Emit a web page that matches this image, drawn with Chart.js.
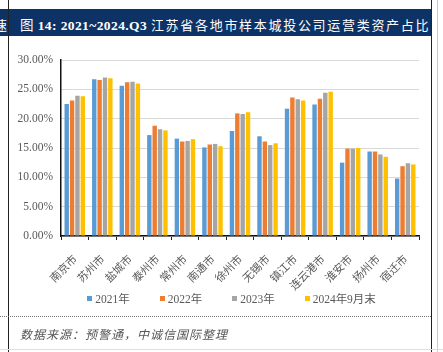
<!DOCTYPE html>
<html>
<head>
<meta charset="utf-8">
<script src="https://cdn.jsdelivr.net/npm/chart.js@4/dist/chart.umd.min.js"></script>
<style>
    html, body { margin: 0; padding: 0; background: #fff; }
    body { width: 443px; height: 352px; position: relative; overflow: hidden; font-family: 'Liberation Serif', 'Noto Sans CJK SC', serif; }
    .frame-l { position: absolute; left: 8px; top: 0; width: 1px; height: 352px; background: #222; }
    .frame-r { position: absolute; left: 431px; top: 0; width: 1px; height: 352px; background: #222; }
    .frame-r2 { position: absolute; left: 437px; top: 0; width: 1px; height: 352px; background: #ccc; }
    .titlebar { position: absolute; left: 0; top: 9px; width: 431px; height: 27px; background: #0d3366; color: #fff; overflow: hidden; }
    .titlebar .prev { position: absolute; left: -6px; top: 6px; font-size: 13px; }
    .titlebar .sep { position: absolute; left: 8px; top: 0; width: 1px; height: 27px; background: #0a1f3d; }
    .titlebar .txt { position: absolute; left: 20px; top: 5px; font-size: 13.5px; letter-spacing: 0.4px; white-space: nowrap; font-family: 'Liberation Serif', 'Noto Sans CJK SC', serif; }
    .titlebar .cjk { letter-spacing: 1.7px; font-size: 13px; }
    #chartWrap { position: absolute; left: 8px; top: 36px; width: 423px; height: 280px; }
    #legend { position: absolute; left: 4px; top: 290px; width: 455px; display: flex; justify-content: center; font-size: 11.5px; color: #595959; }
    #legend .item { display: flex; align-items: center; margin: 0 15px; }
    #legend .box { width: 5px; height: 5px; margin-right: 3px; }
    .dotline { position: absolute; left: 0; top: 316px; width: 431px; border-top: 1px dotted #777; }
    .source { position: absolute; left: 20px; top: 325px; font-size: 12px; color: #555; font-style: italic; font-family: 'Noto Sans CJK SC', sans-serif; letter-spacing: 1px; }
    .bottomline { position: absolute; left: 0; top: 349px; width: 443px; height: 1px; background: #ddd; }
</style>
</head>
<body>
<div class="titlebar">
    <span class="prev">速</span>
    <div class="sep"></div>
    <span class="txt">图 <b>14: 2021~2024.Q3</b> <span class="cjk">江苏省各地市样本城投公司运营类资产占比</span></span>
</div>
<div class="frame-l"></div>
<div class="frame-r"></div>
<div class="frame-r2"></div>
<div id="chartWrap"><canvas id="assetChart"></canvas></div>
<div id="legend"></div>
<div class="dotline"></div>
<div class="source">数据来源：预警通，中诚信国际整理</div>
<div class="bottomline"></div>

<script>
const cities = ['南京市', '苏州市', '盐城市', '泰州市', '常州市', '南通市', '徐州市', '无锡市', '镇江市', '连云港市', '淮安市', '扬州市', '宿迁市'];
const seriesNames = ['2021年', '2022年', '2023年', '2024年9月末'];
const seriesColors = ['#5B9BD5', '#ED7D31', '#A5A5A5', '#FFC000'];

// values in percent
const y2021 = [22.5, 26.7, 25.6, 17.2, 16.6, 15.1, 17.9, 17.0, 21.7, 22.4, 12.5, 14.4, 9.8];
const y2022 = [23.1, 26.6, 26.2, 18.8, 16.1, 15.6, 20.9, 16.1, 23.6, 23.4, 14.9, 14.4, 11.9];
const y2023 = [23.9, 27.0, 26.3, 18.2, 16.2, 15.7, 20.8, 15.5, 23.3, 24.4, 14.9, 13.9, 12.4];
const y2024q3 = [23.8, 26.9, 26.0, 18.0, 16.5, 15.3, 21.1, 15.8, 23.1, 24.6, 15.0, 13.5, 12.2];

const yTicks = [0, 5, 10, 15, 20, 25, 30];

const allSeries = [y2021, y2022, y2023, y2024q3];
const textColor = '#595959';

const datasets = allSeries.map((data, i) => ({
    label: seriesNames[i],
    data: data,
    backgroundColor: seriesColors[i],
    borderWidth: 0,
    barPercentage: 0.82,
    categoryPercentage: 0.78,
}));

const ctx = document.getElementById('assetChart').getContext('2d');
const chart = new Chart(ctx, {
    type: 'bar',
    data: { labels: cities, datasets: datasets },
    options: {
        responsive: true,
        maintainAspectRatio: false,
        animation: false,
        layout: { padding: { left: 0, right: 12, top: 24, bottom: 0 } },
        plugins: {
            legend: { display: false },
            tooltip: { enabled: false },
        },
        scales: {
            x: {
                grid: { display: true, drawOnChartArea: false, drawTicks: true, tickLength: 4, color: '#222', offset: true },
                border: { display: true, color: '#111', width: 1.5 },
                ticks: {
                    color: textColor,
                    font: { family: "'Noto Sans CJK SC', sans-serif", size: 11 },
                    maxRotation: 45,
                    minRotation: 45,
                    padding: 12,
                    autoSkip: false,
                },
                afterFit: (scale) => { scale.height = 80; },
            },
            y: {
                min: 0,
                max: 30,
                afterBuildTicks: (scale) => { scale.ticks = yTicks.map(v => ({ value: v })); },
                grid: { color: '#d9d9d9', lineWidth: 1, drawTicks: false },
                border: { display: true, color: '#111', width: 1.5 },
                ticks: {
                    color: textColor,
                    font: { family: "'Liberation Serif', serif", size: 11.5 },
                    padding: 8,
                    callback: value => value.toFixed(2) + '%',
                },
                afterFit: (scale) => { scale.width = 53; },
            },
        },
    },
});

// html legend built from the chart's datasets
const legendEl = document.getElementById('legend');
chart.data.datasets.forEach(ds => {
    const item = document.createElement('div');
    item.className = 'item';
    item.innerHTML = `<span class="box" style="background:${ds.backgroundColor}"></span><span>${ds.label}</span>`;
    legendEl.appendChild(item);
});
</script>
</body>
</html>
